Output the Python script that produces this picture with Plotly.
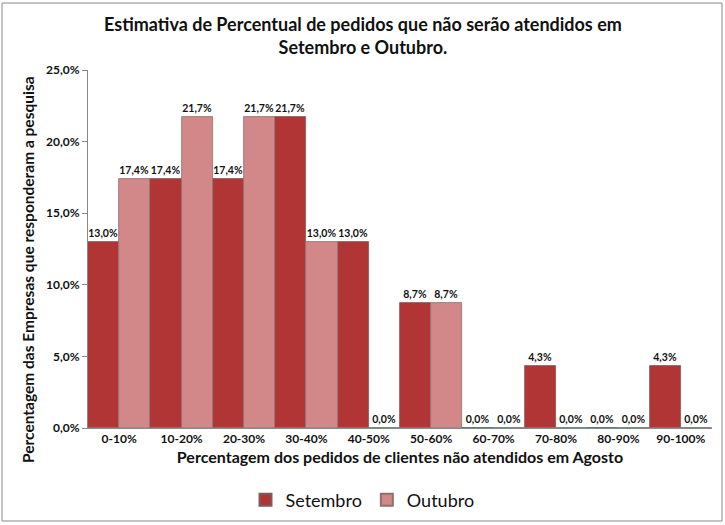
import plotly.graph_objects as go

categories = ["0-10%", "10-20%", "20-30%", "30-40%", "40-50%", "50-60%",
              "60-70%", "70-80%", "80-90%", "90-100%"]
setembro = [13.0, 17.4, 17.4, 21.7, 13.0, 8.7, 0.0, 4.3, 0.0, 4.3]
outubro = [17.4, 21.7, 21.7, 13.0, 0.0, 8.7, 0.0, 0.0, 0.0, 0.0]
y_ticks = [0, 5, 10, 15, 20, 25]
y_tick_labels = ["0,0%", "5,0%", "10,0%", "15,0%", "20,0%", "25,0%"]

FONT = "Lato, 'Open Sans', sans-serif"

def fmt(v):
    return f"{v:.1f}".replace(".", ",") + "%"

fig = go.Figure()
fig.add_trace(go.Bar(
    x=categories, y=setembro, name="Setembro",
    marker=dict(color="#b23535", line=dict(color="#7d5c5c", width=0.8)),
    text=[fmt(v) for v in setembro], textposition="outside",
    textfont=dict(size=10.5, color="#111111", family=FONT, weight="bold"),
    cliponaxis=False,
))
fig.add_trace(go.Bar(
    x=categories, y=outubro, name="Outubro",
    marker=dict(color="#d28888", line=dict(color="#8f7070", width=0.8)),
    text=[fmt(v) for v in outubro], textposition="outside",
    textfont=dict(size=10.5, color="#111111", family=FONT, weight="bold"),
    cliponaxis=False,
))

L, R, T, B = 88, 13, 70, 97
PW = 725 - L - R
PH = 525 - T - B
XC = (362.5 - L) / PW  # paper centre expressed in plot fraction

fig.update_layout(
    width=725, height=525,
    paper_bgcolor="white", plot_bgcolor="white",
    font=dict(family=FONT, color="#111111"),
    barmode="group", bargap=0.0, bargroupgap=0.0,
    margin=dict(l=L, r=R, t=T, b=B, autoexpand=False),
    xaxis=dict(
        automargin=False,
        showline=True, linecolor="#888888", linewidth=1,
        ticks="", showgrid=False,
        tickfont=dict(size=12, family=FONT, color="#111111", weight="bold"),
        title=dict(text="<b>Percentagem dos pedidos de clientes não atendidos em Agosto</b>",
                   font=dict(size=16, family=FONT, color="#111111"), standoff=6),
    ),
    yaxis=dict(
        automargin=False,
        range=[0, 25], tickvals=y_ticks, ticktext=y_tick_labels,
        showline=True, linecolor="#888888", linewidth=1,
        ticks="outside", ticklen=5, tickcolor="#888888",
        showgrid=False, zeroline=False,
        tickfont=dict(size=12, family=FONT, color="#111111", weight="bold"),
    ),
    legend=dict(
        orientation="h", x=XC, xanchor="center", y=(428 - 500) / PH, yanchor="middle",
        font=dict(size=18, family=FONT, color="#111111"),
        bgcolor="rgba(0,0,0,0)",
        itemsizing="constant",
    ),
    annotations=[
        dict(
            text="<b>Estimativa de Percentual de pedidos que não serão atendidos em<br>Setembro e Outubro.</b>",
            xref="paper", yref="paper", x=XC, y=(428 - 35) / PH,
            xanchor="center", yanchor="middle", showarrow=False, align="center",
            font=dict(size=18, family=FONT, color="#111111"),
        ),
        dict(
            text="<b>Percentagem das Empresas que responderam a pesquisa</b>",
            xref="paper", yref="paper", x=(28 - L) / PW, y=(428 - 270) / PH,
            xanchor="center", yanchor="middle", showarrow=False, textangle=-90,
            font=dict(size=15.5, family=FONT, color="#111111"),
        ),
    ],
    shapes=[dict(type="rect", xref="paper", yref="paper",
                 x0=(2 - L) / PW, x1=(722 - L) / PW,
                 y0=(428 - 521) / PH, y1=(428 - 3) / PH,
                 line=dict(color="#888888", width=1))],
)

fig.write_html("out.html", config={"displayModeBar": False},
               post_script="document.body.style.margin='0';document.body.style.overflow='hidden';")
